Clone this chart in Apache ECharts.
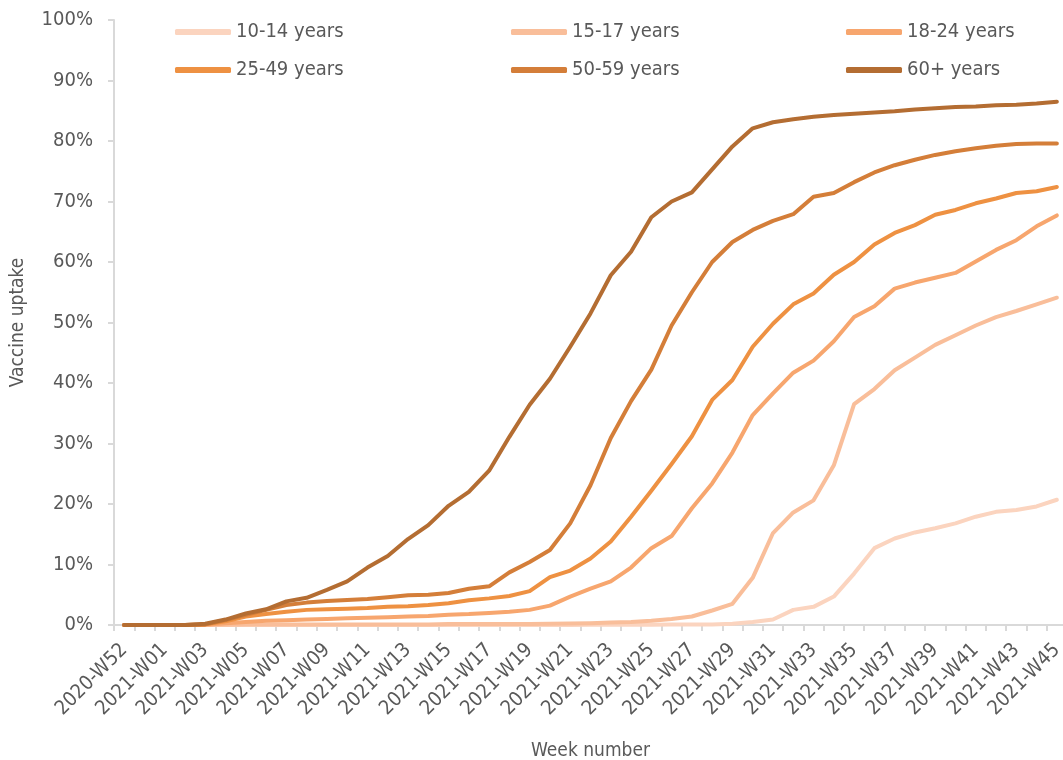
<!DOCTYPE html>
<html>
<head>
<meta charset="utf-8">
<script src="https://cdn.jsdelivr.net/npm/echarts@6/dist/echarts.min.js"></script>
<style>
html,body{margin:0;padding:0;background:#fff;}
#chart{width:1063px;height:760px;}
</style>
</head>
<body>
<div id="chart"></div>
<script>
var categories = ['2020-W52','2020-W53','2021-W01','2021-W02','2021-W03','2021-W04','2021-W05','2021-W06','2021-W07','2021-W08','2021-W09','2021-W10','2021-W11','2021-W12','2021-W13','2021-W14','2021-W15','2021-W16','2021-W17','2021-W18','2021-W19','2021-W20','2021-W21','2021-W22','2021-W23','2021-W24','2021-W25','2021-W26','2021-W27','2021-W28','2021-W29','2021-W30','2021-W31','2021-W32','2021-W33','2021-W34','2021-W35','2021-W36','2021-W37','2021-W38','2021-W39','2021-W40','2021-W41','2021-W42','2021-W43','2021-W44','2021-W45'];

var seriesNames = ['10-14 years','15-17 years','18-24 years','25-49 years','50-59 years','60+ years'];

var age10_14 = [0,0,0,0,0,0,0,0,0,0,0,0,0,0,0,0,0,0,0,0,0,0,0,0.05,0.05,0.05,0.05,0.1,0.1,0.1,0.2,0.5,0.9,2.5,3.0,4.7,8.5,12.7,14.3,15.3,16.0,16.8,17.9,18.7,19.0,19.6,20.7];
var age15_17 = [0,0,0,0,0,0.05,0.1,0.1,0.1,0.1,0.1,0.1,0.1,0.1,0.1,0.1,0.15,0.15,0.15,0.15,0.15,0.2,0.25,0.3,0.4,0.5,0.7,1.0,1.4,2.4,3.5,7.8,15.2,18.6,20.6,26.4,36.5,39.0,42.1,44.2,46.3,47.9,49.5,50.9,51.9,53.0,54.1];
var age18_24 = [0,0,0,0,0.05,0.3,0.5,0.7,0.8,0.9,1.0,1.1,1.2,1.3,1.4,1.5,1.7,1.8,2.0,2.2,2.5,3.2,4.7,6.0,7.2,9.5,12.7,14.7,19.3,23.4,28.5,34.7,38.3,41.7,43.7,46.9,50.9,52.7,55.6,56.6,57.4,58.2,60.1,62.0,63.6,65.9,67.7];
var age25_49 = [0,0,0,0,0.1,0.6,1.4,1.8,2.2,2.5,2.6,2.7,2.8,3.0,3.1,3.3,3.6,4.1,4.4,4.8,5.6,7.9,9.0,11.0,13.8,17.9,22.2,26.6,31.2,37.2,40.5,46.0,49.8,53.0,54.8,57.9,60.0,62.9,64.8,66.1,67.8,68.6,69.7,70.5,71.4,71.7,72.4];
var age50_59 = [0,0,0,0,0.1,0.8,1.7,2.5,3.3,3.7,3.95,4.15,4.3,4.6,4.9,5.0,5.3,6.0,6.4,8.7,10.4,12.4,16.8,23.1,30.9,37.0,42.2,49.5,55.0,60.0,63.3,65.3,66.8,67.9,70.8,71.4,73.2,74.8,76.0,76.9,77.7,78.3,78.8,79.2,79.5,79.6,79.6];
var age60plus = [0,0,0,0,0.2,0.9,1.9,2.6,3.9,4.5,5.8,7.2,9.5,11.4,14.2,16.5,19.7,22.0,25.5,31.1,36.4,40.7,46.0,51.5,57.8,61.7,67.4,70.0,71.5,75.3,79.1,82.1,83.1,83.6,84.0,84.3,84.5,84.7,84.9,85.2,85.4,85.6,85.7,85.9,86.0,86.2,86.5];

var yTicks = [0,10,20,30,40,50,60,70,80,90,100];

var colors = ['#FBD4BF','#F9BE9A','#F7A66E','#EE9142','#D47E39','#B46D32'];
var allData = [age10_14, age15_17, age18_24, age25_49, age50_59, age60plus];

var FONT = '"DejaVu Sans Condensed", "Liberation Sans", sans-serif';
var TXT = '#595959';

var chart = echarts.init(document.getElementById('chart'), null, {renderer:'canvas'});

var series = seriesNames.map(function(n, k){
  return {
    name: n,
    type: 'line',
    data: allData[k],
    symbol: 'none',
    showSymbol: false,
    smooth: false,
    lineStyle: {width: 4, color: colors[k], cap: 'round', join: 'round'},
    itemStyle: {color: colors[k]},
    emphasis: {disabled: true},
    animation: false
  };
});

function legendCol(left, names){
  return {
    orient: 'vertical',
    left: left,
    top: 17,
    data: names,
    icon: 'roundRect',
    itemWidth: 56,
    itemHeight: 6,
    itemGap: 18,
    selectedMode: false,
    textStyle: {color: TXT, fontSize: 20, fontFamily: FONT, lineHeight: 20, padding: [0,0,0,0]}
  };
}

chart.setOption({
  backgroundColor: '#ffffff',
  animation: false,
  color: colors,
  textStyle: {fontFamily: FONT},
  legend: [
    legendCol(170, [seriesNames[0], seriesNames[3]]),
    legendCol(506, [seriesNames[1], seriesNames[4]]),
    legendCol(841, [seriesNames[2], seriesNames[5]])
  ],
  grid: {left: 114, right: -4, top: 20, bottom: 135, containLabel: false, outerBoundsMode: 'none'},
  xAxis: {
    type: 'category',
    data: categories,
    boundaryGap: true,
    name: 'Week number',
    nameLocation: 'middle',
    nameGap: 117,
    nameTextStyle: {color: TXT, fontSize: 19, fontFamily: FONT},
    axisLine: {show: true, lineStyle: {color: '#D9D9D9', width: 2}},
    axisTick: {show: true, interval: 0, length: 6, lineStyle: {color: '#D9D9D9', width: 2}},
    axisLabel: {interval: 1, rotate: 45, color: TXT, fontSize: 20, fontFamily: FONT, margin: 22},
    splitLine: {show: false}
  },
  yAxis: {
    type: 'value',
    min: yTicks[0],
    max: yTicks[yTicks.length-1],
    interval: yTicks[1] - yTicks[0],
    name: 'Vaccine uptake',
    nameLocation: 'middle',
    nameGap: 86,
    nameTextStyle: {color: TXT, fontSize: 19, fontFamily: FONT},
    axisLine: {show: true, lineStyle: {color: '#D9D9D9', width: 2}},
    axisTick: {show: true, length: 6, lineStyle: {color: '#D9D9D9', width: 2}},
    axisLabel: {color: TXT, fontSize: 20, fontFamily: FONT, margin: 21, formatter: '{value}%'},
    splitLine: {show: false}
  },
  series: series
});
</script>
</body>
</html>
